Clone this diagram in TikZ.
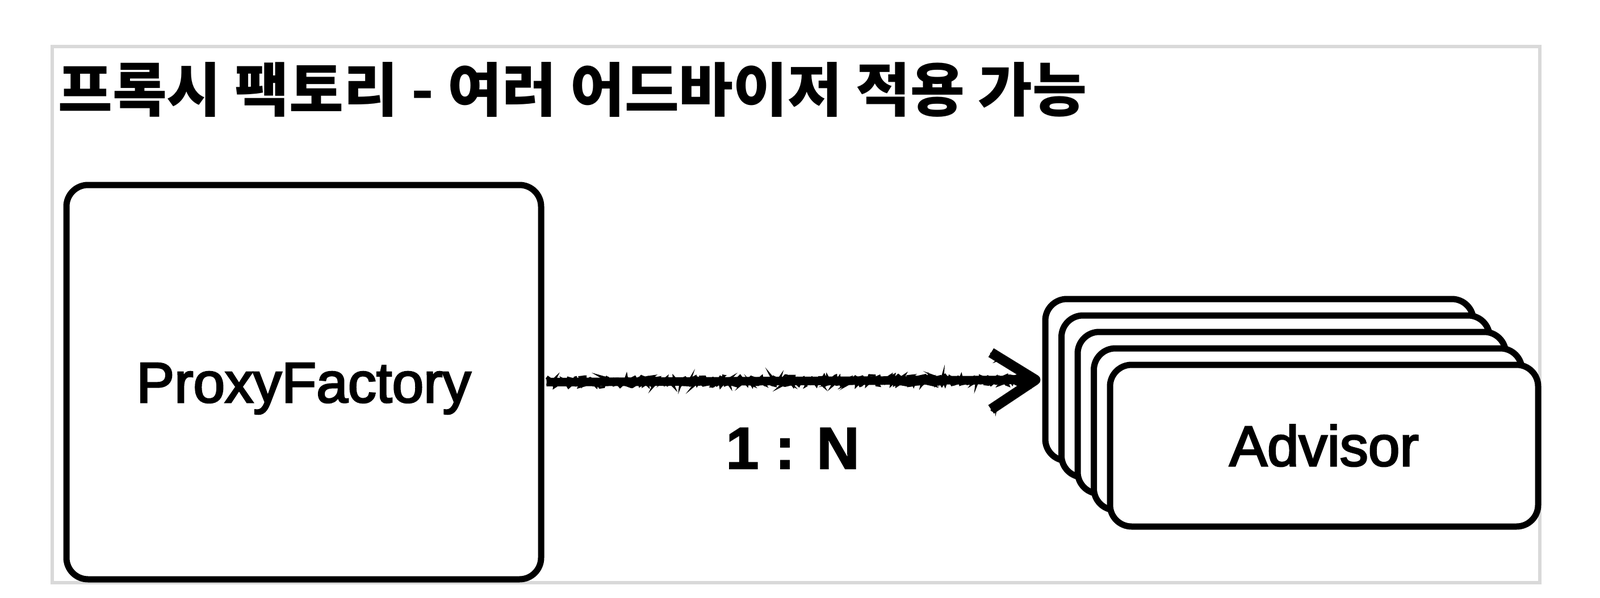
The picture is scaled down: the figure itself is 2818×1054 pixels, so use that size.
\documentclass[tikz,border=0pt]{standalone}
\usepackage{fontspec}
\setmainfont{Liberation Sans}
\newfontfamily\kr{Noto Sans CJK KR}
\newfontfamily\med{Liberation Sans}[FakeBold=3]
\newfontfamily\hb{Liberation Sans Bold}[FakeBold=2]
\usetikzlibrary{decorations.pathmorphing}
\begin{document}
\begin{tikzpicture}[x=1pt,y=-1pt,
  frame/.style={draw=black!15,line width=6pt},
  box/.style={draw=black,fill=white,line width=11pt,rounded corners=38pt,inner sep=0pt},
  advbox/.style={box,minimum width=754pt,minimum height=285pt},
  lbl/.style={font=\med\fontsize{100}{110}\selectfont,text height=71pt,text depth=0pt},
  shaft/.style={line width=15pt,line join=round},
  fuzz/.style={line width=4pt,decorate,decoration={random steps,segment length=3pt,amplitude=5pt}}]
\useasboundingbox (0,0) rectangle (2818,1054);
\fill[white] (0,0) rectangle (2818,1054);
\draw[frame] (92,82) rectangle (2712,1027);
\node[anchor=west,inner sep=0pt,font=\kr\bfseries\fontsize{98}{110}\selectfont] (title) at (102,158) {\scalebox{1.063}[1.05]{프록시 팩토리 - 여러 어드바이저 적용 가능}};
\node[box,lbl,minimum width=836pt,minimum height=695pt] (pf) at (535,673.5) {ProxyFactory};
\node[advbox] (a1) at (2218,669.5) {};
\node[advbox] (a2) at (2246.5,698.5) {};
\node[advbox] (a3) at (2275,727.5) {};
\node[advbox] (a4) at (2303.5,756.5) {};
\node[advbox,lbl] (a5) at (2332,785.5) {Advisor};
% connector: sketchy arrow
\draw[shaft] ([xshift=4pt]pf.east) -- ([xshift=-12pt]a1.west);
\draw[fuzz] ([xshift=4pt,yshift=-5pt]pf.east) -- ([xshift=-14pt,yshift=-5pt]a1.west);
\draw[fuzz] ([xshift=4pt,yshift=5pt]pf.east) -- ([xshift=-14pt,yshift=5pt]a1.west);
\draw[shaft,line width=18pt] ([xshift=-90pt,yshift=48pt]a1.west) -- ([xshift=-12pt]a1.west) -- ([xshift=-90pt,yshift=-52pt]a1.west);
\draw[fuzz] ([xshift=-90pt,yshift=48pt]a1.west) -- ([xshift=-12pt]a1.west) -- ([xshift=-90pt,yshift=-52pt]a1.west);
\node[anchor=base,inner sep=0pt,font=\hb\fontsize{104}{110}\selectfont] (card) at (1396,826) {1 : N};
\end{tikzpicture}
\end{document}
